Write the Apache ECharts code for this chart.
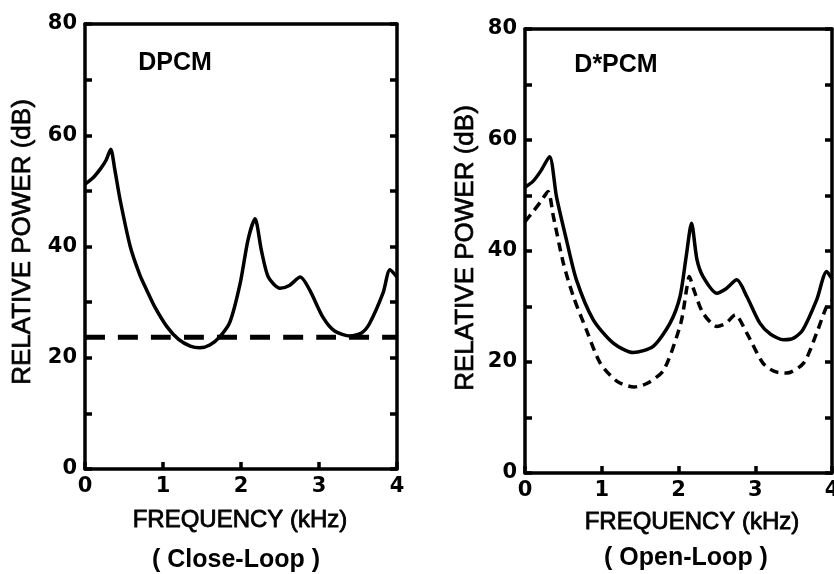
<!DOCTYPE html>
<html>
<head>
<meta charset="utf-8">
<script src="https://cdn.jsdelivr.net/npm/echarts@6/dist/echarts.min.js"></script>
<style>
html,body{margin:0;padding:0;background:#fff;}
#c{width:834px;height:574px;}
</style>
</head>
<body>
<div id="c"></div>
<script>
// ---- data ----
const xTickLabels = [0, 1, 2, 3, 4];
const yTickLabels = [0, 20, 40, 60, 80];

// Left panel: DPCM (close-loop)
const dpcmFreq  = [0, 0.1, 0.2, 0.27, 0.33, 0.38, 0.45, 0.58, 0.7, 0.79, 0.9, 1.05, 1.2, 1.35, 1.47, 1.6, 1.73, 1.86, 1.99, 2.09, 2.18, 2.26, 2.35, 2.5, 2.62, 2.76, 2.88, 3.05, 3.2, 3.4, 3.55, 3.65, 3.82, 3.91, 4.0];
const dpcmPower = [51.2, 52.3, 54.0, 55.5, 57.5, 54.0, 48.4, 40.0, 35.0, 32.2, 29.0, 25.6, 23.3, 22.1, 21.8, 22.3, 23.8, 26.5, 33.4, 41.2, 45.0, 39.4, 34.5, 32.5, 33.0, 34.5, 32.2, 27.3, 24.8, 23.9, 24.5, 26.2, 31.6, 35.8, 34.5];
const dpcmLevelFreq  = [0, 4];
const dpcmLevelPower = [23.7, 23.7];

// Right panel: D*PCM (open-loop)
const dstarSolidFreq  = [0, 0.1, 0.2, 0.32, 0.41, 0.54, 0.67, 0.89, 1.15, 1.41, 1.67, 1.89, 2.02, 2.1, 2.17, 2.24, 2.32, 2.5, 2.62, 2.76, 2.89, 3.06, 3.2, 3.37, 3.5, 3.62, 3.8, 3.93, 4.0];
const dstarSolidPower = [51.5, 52.5, 54.3, 57.0, 49.8, 42.0, 34.8, 27.6, 23.4, 21.7, 22.8, 27.0, 31.8, 39.0, 45.0, 38.5, 35.4, 32.4, 33.2, 34.8, 31.8, 27.0, 25.0, 24.0, 24.3, 25.8, 31.2, 36.3, 35.0];
const dstarDashFreq  = [0, 0.1, 0.2, 0.3, 0.37, 0.5, 0.63, 0.8, 0.98, 1.2, 1.42, 1.6, 1.81, 2.03, 2.11, 2.14, 2.2, 2.32, 2.5, 2.62, 2.74, 2.89, 3.1, 3.25, 3.41, 3.63, 3.8, 3.93, 4.0];
const dstarDashPower = [45.3, 47.0, 48.8, 50.7, 46.2, 37.8, 31.8, 25.8, 19.8, 16.5, 15.5, 16.2, 18.6, 27.0, 33.5, 35.4, 33.0, 28.8, 26.4, 27.0, 28.5, 25.2, 19.8, 18.3, 18.0, 19.8, 25.2, 30.0, 31.0];

const panelTitles = ['DPCM', 'D*PCM'];
const xTitle = 'FREQUENCY (kHz)';
const yTitle = 'RELATIVE POWER (dB)';
const subTitles = ['( Close-Loop )', '( Open-Loop )'];

// ---- chart ----
const zip = (xs, ys) => xs.map((x, i) => [x, ys[i]]);
const FONT = '"Liberation Sans", Arial, sans-serif';
const tickFont = { fontFamily: '"DejaVu Sans", sans-serif', fontWeight: 'bold', fontSize: 21, color: '#000' };
const LW = 3.5;

function bottomAxis(gi) {
  return {
    type: 'value', gridIndex: gi, position: 'bottom', min: 0, max: 4, interval: 1,
    axisLine: { onZero: false, lineStyle: { color: '#000', width: LW } },
    axisTick: { inside: true, length: 7, lineStyle: { width: LW, color: '#000' } },
    axisLabel: { margin: 7, ...tickFont, hideOverlap: false, formatter: v => xTickLabels.includes(v) ? String(v) : '' },
    splitLine: { show: false }
  };
}
function topAxis(gi) {
  return {
    type: 'value', gridIndex: gi, position: 'top', min: 0, max: 4, interval: 1,
    axisLine: { onZero: false, lineStyle: { color: '#000', width: LW } },
    axisTick: { show: false }, axisLabel: { show: false }, splitLine: { show: false }
  };
}
function leftAxis(gi) {
  return {
    type: 'value', gridIndex: gi, position: 'left', min: 0, max: 80, interval: 10,
    axisLine: { onZero: false, lineStyle: { color: '#000', width: LW } },
    axisTick: { inside: true, length: 7, lineStyle: { width: LW, color: '#000' } },
    axisLabel: { margin: 8, ...tickFont, formatter: v => yTickLabels.includes(v) ? String(v) : '' },
    splitLine: { show: false }
  };
}
function rightAxis(gi) {
  return {
    type: 'value', gridIndex: gi, position: 'right', min: 0, max: 80, interval: 10,
    axisLine: { onZero: false, lineStyle: { color: '#000', width: LW } },
    axisTick: { inside: true, length: 7, lineStyle: { width: LW, color: '#000' } },
    axisLabel: { show: false }, splitLine: { show: false }
  };
}

function lineSeries(xi, yi, data, dashed, width, dash) {
  return {
    type: 'line', xAxisIndex: xi, yAxisIndex: yi, data: data,
    showSymbol: false, symbol: 'none', smooth: 0.25, animation: false,
    lineStyle: { color: '#000', width: width || LW, type: dashed ? (dash || [8, 6]) : 'solid', cap: 'butt' }
  };
}

function txt(x, y, text, size, weight, rot, strokeW) {
  const style = { text: text, fill: '#000', font: (weight || 'normal') + ' ' + size + 'px ' + FONT,
                  textAlign: 'center', textVerticalAlign: 'middle' };
  if (strokeW) { style.stroke = '#000'; style.lineWidth = strokeW; }
  return { type: 'text', x: x, y: y, rotation: rot || 0, style: style };
}

const chart = echarts.init(document.getElementById('c'), null, { renderer: 'canvas' });
chart.setOption({
  backgroundColor: '#fff',
  animation: false,
  grid: [
    { left: 85, right: 834 - 397, top: 24, bottom: 574 - 469, outerBoundsMode: 'none', containLabel: false },
    { left: 525, right: 834 - 832, top: 29, bottom: 574 - 473, outerBoundsMode: 'none', containLabel: false }
  ],
  xAxis: [bottomAxis(0), topAxis(0), bottomAxis(1), topAxis(1)],
  yAxis: [leftAxis(0), rightAxis(0), leftAxis(1), rightAxis(1)],
  series: [
    lineSeries(0, 0, zip(dpcmFreq, dpcmPower), false),
    lineSeries(0, 0, zip(dpcmLevelFreq, dpcmLevelPower), true, 5, [20, 13]),
    lineSeries(2, 2, zip(dstarSolidFreq, dstarSolidPower), false),
    lineSeries(2, 2, zip(dstarDashFreq, dstarDashPower), true, 3.5, [9, 6])
  ],
  graphic: [
    txt(175, 63, panelTitles[0], 25, 'bold'),
    txt(616, 65, panelTitles[1], 25, 'bold'),
    txt(23, 242, yTitle, 26, 'normal', Math.PI / 2, 0.7),
    txt(466, 248, yTitle, 26, 'normal', Math.PI / 2, 0.7),
    txt(240, 520, xTitle, 24, 'normal', 0, 0.8),
    txt(692, 522, xTitle, 24, 'normal', 0, 0.8),
    txt(236, 560, subTitles[0], 25, 'bold'),
    txt(686, 558, subTitles[1], 25, 'bold')
  ]
});
</script>
</body>
</html>
